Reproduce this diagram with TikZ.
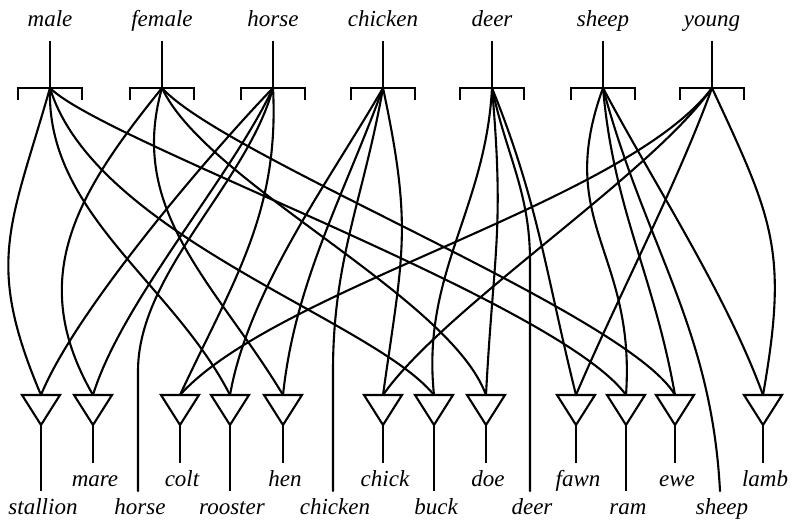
\documentclass[tikz,border=0pt]{standalone}
\usepackage{fontspec}
\setmainfont{Liberation Serif}
\begin{document}
\begin{tikzpicture}[x=1pt,y=1pt,
  wire/.style={line width=2.1pt, line cap=round},
  edge/.style={line width=2.1pt},
  lab/.style={font=\fontsize{23}{28}\selectfont\itshape, inner sep=0pt, anchor=base}]
\useasboundingbox (0,0) rectangle (793,521);
% top units
\foreach \n/\x in {male/50,female/162,horse/273,chicken/383,deer/492,sheep/603,young/712}{
  \node[lab] (L\n) at (\x,494) {\n};
  \coordinate (h\n) at (\x,433);
  \draw[edge] (\x,480) -- (h\n);
  \draw[edge] (\x-32,421) -- (\x-32,433) -- (\x+32,433) -- (\x+32,421);
}
% bottom units
\foreach \n/\x/\ly in {stallion/41/6, mare/93/34, colt/180/34, rooster/230/6, hen/283/34, chick/383/34, buck/434/6, doe/486/34, fawn/576/34, ram/626/6, ewe/675/34, lamb/763/34}{
  \coordinate (t\n) at (\x,126);
  \draw[edge] (\x-19,126) -- (\x+19,126) -- (\x,96) -- cycle;
  \draw[edge] (\x,96) -- (\x,\ly+24);
  \node[lab] (B\n) at (\x+2,\ly) {\n};
}
% direct outputs
\foreach \n/\x in {horse/138,chicken/333,deer/530,sheep/720}{
  \coordinate (e\n) at (\x,30);
  \node[lab] (D\n) at (\x+2,6) {\n};
}
\coordinate (khorse) at (138,150);
\coordinate (kchicken) at (333,150);
\coordinate (kdeer) at (530,260);
% male
\draw[wire] (hmale) to[out=-106,in=113,looseness=1.2] (tstallion);
\draw[wire] (hmale) to[out=-92,in=117,looseness=0.9] (trooster);
\draw[wire] (hmale) to[out=-73,in=129,out looseness=0.8,in looseness=0.5] (tbuck);
\draw[wire] (hmale) to[out=-45,in=126,out looseness=0.3,in looseness=0.45] (tram);
% female
\draw[wire] (hfemale) to[out=-129,in=120,looseness=1.1] (tmare);
\draw[wire] (hfemale) to[out=-106,in=121,looseness=1.0] (then);
\draw[wire] (hfemale) to[out=-65,in=110,looseness=0.6] (tdoe);
\draw[wire] (hfemale) to[out=-48,in=120,looseness=0.4] (tewe);
% horse
\draw[wire] (hhorse) to[out=-134,in=68,looseness=0.6] (tstallion);
\draw[wire] (hhorse) to[out=-115,in=73,looseness=0.7] (tmare);
\draw[wire] (hhorse) to[out=-105,in=90,looseness=0.8] (khorse) -- (ehorse);
\draw[wire] (hhorse) to[out=-87,in=65,looseness=1.0] (tcolt);
% chicken
\draw[wire] (hchicken) to[out=-120,in=80,looseness=0.8] (trooster);
\draw[wire] (hchicken) to[out=-110,in=84,looseness=0.9] (then);
\draw[wire] (hchicken) to[out=-100,in=90,looseness=1.0] (kchicken) -- (echicken);
\draw[wire] (hchicken) to[out=-78,in=82,looseness=1.2] (tchick);
% deer
\draw[wire] (hdeer) to[out=-93,in=96,looseness=1.0] (tbuck);
\draw[wire] (hdeer) to[out=-85,in=87,looseness=1.2] (tdoe);
\draw[wire] (hdeer) to[out=-78,in=90,looseness=1.0] (kdeer) -- (edeer);
\draw[wire] (hdeer) to[out=-68,in=104,looseness=1.0] (tfawn);
% sheep
\draw[wire] (hsheep) to[out=-110,in=86,looseness=1.2] (tram);
\draw[wire] (hsheep) to[out=-85,in=100,looseness=1.0] (tewe);
\draw[wire] (hsheep) to[out=-75,in=93,looseness=1.0] (esheep);
\draw[wire] (hsheep) to[out=-62,in=110,looseness=0.8] (tlamb);
% young
\draw[wire] (hyoung) to[out=-127,in=48,looseness=0.6] (tcolt);
\draw[wire] (hyoung) to[out=-125,in=55,looseness=0.6] (tchick);
\draw[wire] (hyoung) to[out=-110,in=67,looseness=0.8] (tfawn);
\draw[wire] (hyoung) to[out=-65,in=80,looseness=1.2] (tlamb);
\end{tikzpicture}
\end{document}
